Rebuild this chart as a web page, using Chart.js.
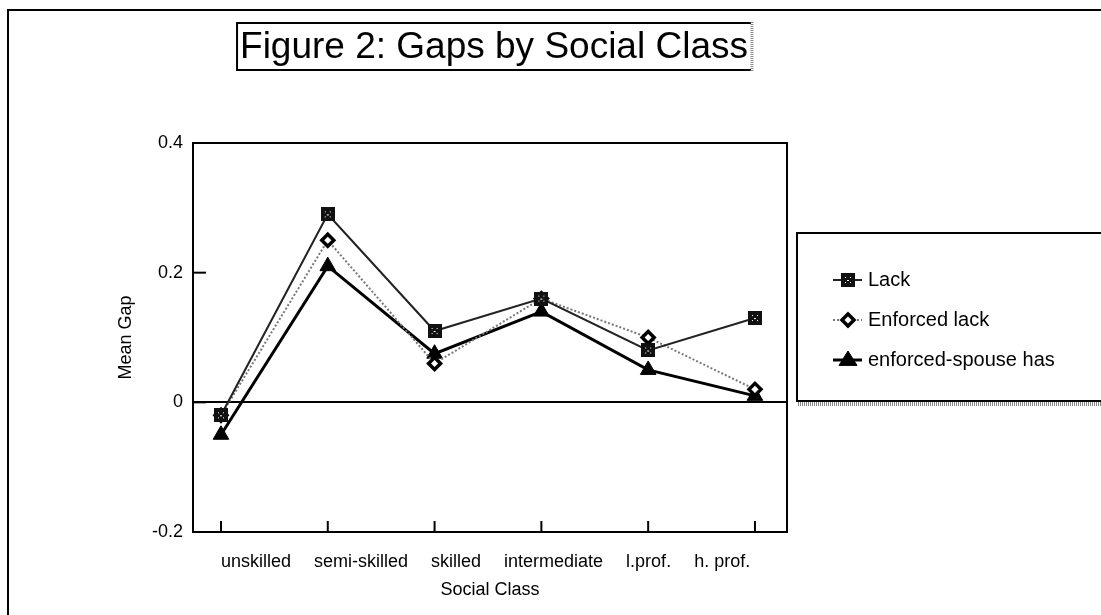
<!DOCTYPE html>
<html>
<head>
<meta charset="utf-8">
<script src="https://cdn.jsdelivr.net/npm/chart.js@4/dist/chart.umd.min.js"></script>
<style>
html, body { margin: 0; padding: 0; background: #fff; }
#wrap { width: 1101px; height: 615px; position: relative; }
</style>
</head>
<body>
<div id="wrap"><canvas id="myChart" width="1101" height="615"></canvas></div>
<script>
// data
var categories = ["unskilled", "semi-skilled", "skilled", "intermediate", "l.prof.", "h. prof."];
var lack = [-0.02, 0.29, 0.11, 0.16, 0.08, 0.13];
var enforced_lack = [-0.02, 0.25, 0.06, 0.16, 0.10, 0.02];
var enforced_spouse = [-0.05, 0.21, 0.075, 0.14, 0.05, 0.01];
var series_names = ["Lack", "Enforced lack", "enforced-spouse has"];
var y_ticks = [-0.2, 0, 0.2, 0.4];

var FONT = '"Liberation Sans", Arial, sans-serif';

// square marker with a few white specks, like the scanned original
function makeSquare() {
    var c = document.createElement('canvas');
    c.width = 14; c.height = 14;
    var g = c.getContext('2d');
    g.fillStyle = '#111';
    g.fillRect(0, 0, 14, 14);
    g.fillStyle = '#fff';
    g.fillRect(4, 4, 1, 1); g.fillRect(9, 4, 1, 1);
    g.fillRect(6, 7, 2, 1);
    g.fillRect(4, 9, 1, 1); g.fillRect(9, 9, 1, 1);
    return c;
}
var squareImg = makeSquare();

function toPoints(arr) {
    var out = [];
    for (var i = 0; i < arr.length; i++) {
        out.push({x: i, y: arr[i]});
    }
    return out;
}

var datasets = [
    {
        label: series_names[0],
        data: toPoints(lack),
        borderColor: '#222',
        borderWidth: 2,
        pointStyle: squareImg,
        pointRadius: 7,
        pointBackgroundColor: '#111',
        pointBorderColor: '#111'
    },
    {
        label: series_names[1],
        data: toPoints(enforced_lack),
        borderColor: '#777',
        borderWidth: 2,
        borderDash: [2, 2],
        pointStyle: 'rectRot',
        pointRadius: 6,
        pointBorderWidth: 3.5,
        pointBackgroundColor: '#fff',
        pointBorderColor: '#000'
    },
    {
        label: series_names[2],
        data: toPoints(enforced_spouse),
        borderColor: '#000',
        borderWidth: 3,
        pointStyle: 'triangle',
        pointRadius: 9,
        pointBackgroundColor: '#000',
        pointBorderColor: '#000',
        pointBorderWidth: 1
    }
];

function dottedLine(ctx, x1, y1, x2, y2, w) {
    ctx.save();
    ctx.strokeStyle = '#888';
    ctx.lineWidth = w;
    ctx.setLineDash([1, 1]);
    ctx.beginPath();
    ctx.moveTo(x1, y1);
    ctx.lineTo(x2, y2);
    ctx.stroke();
    ctx.restore();
}

var decorations = {
    id: 'decorations',
    afterDraw: function(chart) {
        var ctx = chart.ctx;
        var area = chart.chartArea;
        var xs = chart.scales.x;
        var ys = chart.scales.y;
        ctx.save();

        // outer page border
        ctx.strokeStyle = '#000';
        ctx.lineWidth = 2;
        ctx.beginPath();
        ctx.moveTo(8, 620);
        ctx.lineTo(8, 10);
        ctx.lineTo(1101, 10);
        ctx.stroke();

        // plot frame
        ctx.lineWidth = 2;
        ctx.strokeRect(area.left, area.top, area.right - area.left, area.bottom - area.top);

        // inward ticks
        ctx.lineWidth = 2;
        for (var i = 0; i < categories.length; i++) {
            var px = xs.getPixelForValue(i);
            ctx.beginPath();
            ctx.moveTo(px, area.bottom);
            ctx.lineTo(px, area.bottom - 11);
            ctx.stroke();
        }
        for (var j = 0; j < y_ticks.length; j++) {
            var py = ys.getPixelForValue(y_ticks[j]);
            ctx.beginPath();
            ctx.moveTo(area.left, py);
            ctx.lineTo(area.left + 13, py);
            ctx.stroke();
        }

        // category labels, laid out one after another from the first tick
        ctx.fillStyle = '#000';
        ctx.font = '18px ' + FONT;
        ctx.textBaseline = 'middle';
        ctx.textAlign = 'left';
        var lx = xs.getPixelForValue(0);
        for (var k = 0; k < categories.length; k++) {
            ctx.fillText(categories[k], lx, 562);
            lx += ctx.measureText(categories[k]).width + 23;
        }

        // axis titles
        ctx.textAlign = 'center';
        ctx.font = '18px ' + FONT;
        ctx.fillText('Social Class', (area.left + area.right) / 2, 590);
        ctx.save();
        ctx.translate(126, (area.top + area.bottom) / 2);
        ctx.rotate(-Math.PI / 2);
        ctx.fillText('Mean Gap', 0, 0);
        ctx.restore();

        // boxed title
        ctx.font = '37px ' + FONT;
        var title = 'Figure 2: Gaps by Social Class';
        var tw = ctx.measureText(title).width;
        var tcx = 494;
        ctx.fillText(title, tcx, 48);
        var bl = tcx - tw / 2 - 3, br = tcx + tw / 2 + 3;
        ctx.lineWidth = 2;
        ctx.strokeStyle = '#000';
        ctx.beginPath();
        ctx.moveTo(br, 23);
        ctx.lineTo(bl, 23);
        ctx.lineTo(bl, 70);
        ctx.lineTo(br, 70);
        ctx.stroke();
        dottedLine(ctx, br + 1, 22, br + 1, 71, 3);

        // legend box
        ctx.strokeStyle = '#000';
        ctx.lineWidth = 2;
        ctx.strokeRect(797, 233, 330, 168);
        dottedLine(ctx, 798, 404, 1101, 404, 4);

        var rows = [280, 320, 360];
        ctx.textAlign = 'left';
        ctx.font = '20px ' + FONT;
        for (var d = 0; d < datasets.length; d++) {
            var ds = datasets[d];
            var ry = rows[d];
            ctx.save();
            ctx.strokeStyle = ds.borderColor;
            ctx.lineWidth = ds.borderWidth;
            if (ds.borderDash) ctx.setLineDash(ds.borderDash);
            ctx.beginPath();
            ctx.moveTo(833, ry);
            ctx.lineTo(862, ry);
            ctx.stroke();
            ctx.restore();
            ctx.save();
            ctx.fillStyle = ds.pointBackgroundColor;
            ctx.strokeStyle = ds.pointBorderColor;
            ctx.lineWidth = ds.pointBorderWidth || 1;
            ctx.beginPath();
            if (ds.pointStyle === 'rectRot') {
                var r = ds.pointRadius;
                ctx.moveTo(848, ry - r); ctx.lineTo(848 + r, ry);
                ctx.lineTo(848, ry + r); ctx.lineTo(848 - r, ry);
                ctx.closePath();
                ctx.fill(); ctx.stroke();
            } else if (ds.pointStyle === 'triangle') {
                var t = ds.pointRadius;
                ctx.moveTo(848, ry - t); ctx.lineTo(848 + t, ry + t * 0.6);
                ctx.lineTo(848 - t, ry + t * 0.6);
                ctx.closePath();
                ctx.fill(); ctx.stroke();
            } else {
                ctx.drawImage(ds.pointStyle, 848 - 7, ry - 7);
            }
            ctx.restore();
            ctx.fillStyle = '#000';
            ctx.textBaseline = 'middle';
            ctx.fillText(ds.label, 868, ry);
        }

        ctx.restore();
    }
};

var mychart = new Chart(document.getElementById('myChart'), {
    type: 'line',
    data: { datasets: datasets },
    options: {
        responsive: false,
        animation: false,
        devicePixelRatio: 1,
        layout: { padding: { left: 0, top: 143, right: 314, bottom: 83 } },
        plugins: {
            legend: { display: false },
            title: { display: false },
            tooltip: { enabled: false }
        },
        elements: { line: { tension: 0 } },
        scales: {
            x: {
                type: 'linear',
                min: -0.262,
                max: 5.30,
                ticks: { display: false },
                grid: { display: false, drawTicks: false },
                border: { display: false },
                afterFit: function(s) { s.height = 0; }
            },
            y: {
                min: -0.2,
                max: 0.4,
                ticks: {
                    stepSize: 0.2,
                    color: '#000',
                    padding: 10,
                    font: { family: FONT, size: 18 },
                    callback: function(v) {
                        if (Math.abs(v) < 1e-9) return '0';
                        return v.toFixed(1);
                    }
                },
                grid: {
                    drawTicks: false,
                    lineWidth: 2,
                    color: function(c) {
                        return (c.tick && Math.abs(c.tick.value) < 1e-9) ? '#000' : 'rgba(0,0,0,0)';
                    }
                },
                border: { display: false },
                afterFit: function(s) { s.width = 193; }
            }
        }
    },
    plugins: [decorations]
});
</script>
</body>
</html>
